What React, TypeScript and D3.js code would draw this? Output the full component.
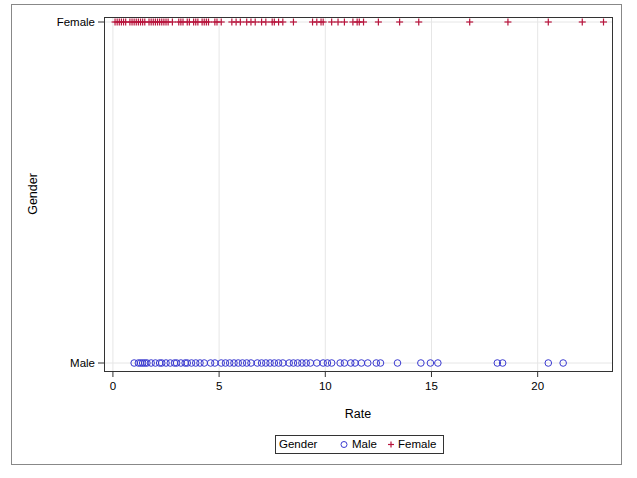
import React from 'react'
import * as d3 from 'd3'

// Rate values per gender
const femaleRates = [
  0.1, 0.2, 0.3, 0.4, 0.5, 0.6, 0.8, 0.9, 1.0, 1.1, 1.2, 1.3, 1.4, 1.5, 1.7,
  1.8, 1.9, 2.0, 2.1, 2.2, 2.3, 2.4, 2.5, 2.6, 2.8, 3.1, 3.2, 3.3, 3.5, 3.6,
  3.8, 3.9, 4.0, 4.2, 4.3, 4.4, 4.5, 4.8, 4.9, 5.1, 5.6, 5.8, 6.0, 6.3, 6.5,
  6.7, 7.0, 7.2, 7.5, 7.6, 7.8, 8.0, 8.5, 9.4, 9.6, 9.8, 9.9, 10.3, 10.6,
  10.9, 11.3, 11.5, 11.6, 11.8, 12.5, 13.5, 14.4, 16.8, 18.6, 20.5, 22.1, 23.1,
]
const maleRates = [
  1.0, 1.2, 1.3, 1.4, 1.5, 1.6, 1.8, 2.0, 2.2, 2.3, 2.5, 2.7, 2.9, 3.0, 3.2,
  3.4, 3.5, 3.7, 3.9, 4.1, 4.3, 4.6, 4.8, 5.1, 5.3, 5.5, 5.7, 5.9, 6.1, 6.3,
  6.5, 6.8, 7.0, 7.2, 7.4, 7.6, 7.8, 8.0, 8.3, 8.5, 8.7, 8.9, 9.1, 9.3, 9.6,
  9.9, 10.1, 10.3, 10.7, 10.9, 11.2, 11.4, 11.7, 12.0, 12.4, 12.6, 13.4, 14.5,
  14.95, 15.3, 18.1, 18.35, 20.5, 21.2,
]
const categories = ['Male', 'Female']
const xTicks = [0, 5, 10, 15, 20]

const W = 637
const H = 478
const plot = { left: 104, right: 612, top: 17, bottom: 371 }
const font = '"Liberation Sans", Arial, sans-serif'
const maleColor = '#3a3ad0'
const femaleColor = '#b8143c'

export default function App() {
  const x = d3.scaleLinear().domain([-0.42, 23.5]).range([plot.left, plot.right])
  const y = d3
    .scalePoint<string>()
    .domain(categories)
    .range([plot.bottom - 8, plot.top + 5])

  const plus = (cx: number, cy: number, key: string, color: string, s = 3.5) => (
    <g key={key} stroke={color} strokeWidth={1.2}>
      <line x1={cx - s} x2={cx + s} y1={cy} y2={cy} />
      <line x1={cx} x2={cx} y1={cy - s} y2={cy + s} />
    </g>
  )

  return (
    <div style={{ position: 'fixed', left: 0, top: 0 }}>
      <svg width={W} height={H} style={{ display: 'block', background: '#fff' }} fontFamily={font}>
        <rect x={11.5} y={4.5} width={610} height={460} fill="#fff" stroke="#888" />
        {/* grid */}
        {xTicks.map((t) => (
          <line key={'g' + t} x1={x(t)} x2={x(t)} y1={plot.top} y2={plot.bottom} stroke="#e6e6e6" />
        ))}
        {categories.map((c) => (
          <line key={'gy' + c} x1={plot.left} x2={plot.right} y1={y(c)} y2={y(c)} stroke="#e6e6e6" />
        ))}
        {/* marks */}
        {maleRates.map((v, i) => (
          <circle key={'m' + i} cx={x(v)} cy={y('Male')} r={3.3} fill="none" stroke={maleColor} strokeWidth={1} />
        ))}
        {femaleRates.map((v, i) => plus(x(v), y('Female')!, 'f' + i, femaleColor))}
        <rect
          x={plot.left + 0.5}
          y={plot.top + 0.5}
          width={plot.right - plot.left}
          height={plot.bottom - plot.top}
          fill="none"
          stroke="#333"
        />
        {/* x axis */}
        {xTicks.map((t) => (
          <g key={'xt' + t}>
            <line x1={x(t)} x2={x(t)} y1={plot.bottom} y2={plot.bottom + 6} stroke="#333" />
            <text x={x(t)} y={plot.bottom + 19} textAnchor="middle" fontSize={11.5} fill="#000">
              {t}
            </text>
          </g>
        ))}
        <text x={358} y={418} textAnchor="middle" fontSize={12.5} fill="#000">
          Rate
        </text>
        {/* y axis */}
        {categories.map((c) => (
          <g key={'yt' + c}>
            <line x1={plot.left - 6} x2={plot.left} y1={y(c)} y2={y(c)} stroke="#333" />
            <text x={plot.left - 9} y={y(c)! + 4} textAnchor="end" fontSize={11.5} fill="#000">
              {c}
            </text>
          </g>
        ))}
        <text
          transform={`translate(37,${(plot.top + plot.bottom) / 2}) rotate(-90)`}
          textAnchor="middle"
          fontSize={12.5}
          fill="#000"
        >
          Gender
        </text>
        {/* legend */}
        <rect x={275.5} y={435.5} width={168} height={18} fill="#fff" stroke="#333" />
        <text x={279} y={448} fontSize={11.5} fill="#000">
          Gender
        </text>
        <circle cx={344} cy={444.5} r={3} fill="none" stroke={maleColor} />
        <text x={352} y={448} fontSize={11.5} fill="#000">
          Male
        </text>
        {plus(391, 444.5, 'lf', femaleColor, 3)}
        <text x={398} y={448} fontSize={11.5} fill="#000">
          Female
        </text>
      </svg>
    </div>
  )
}
